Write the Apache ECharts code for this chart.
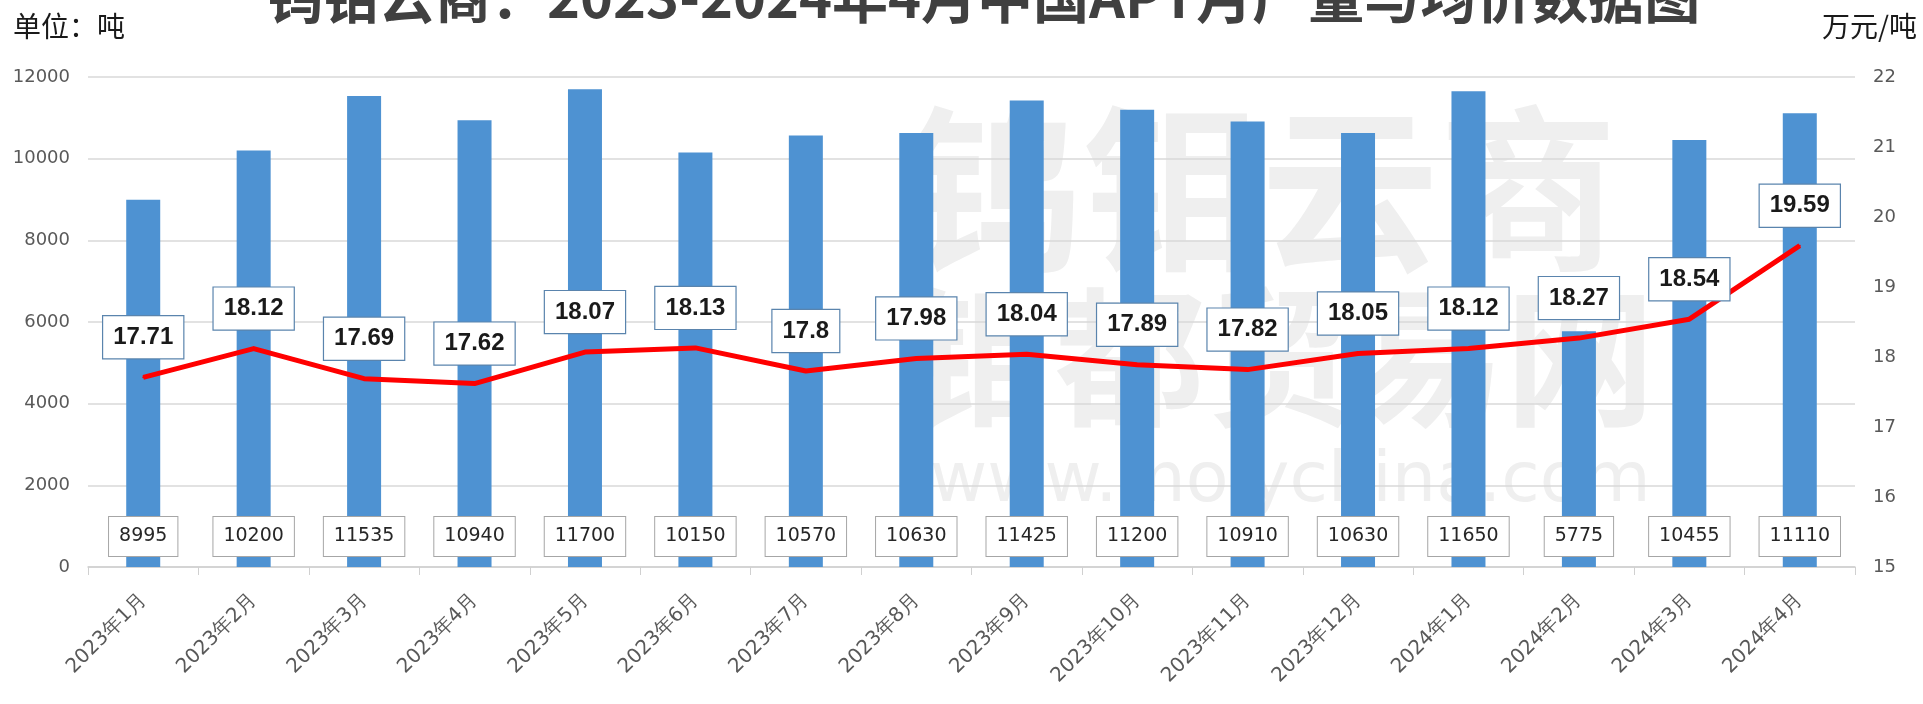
<!DOCTYPE html>
<html>
<head>
<meta charset="utf-8">
<script src="https://cdn.jsdelivr.net/npm/echarts@6/dist/echarts.min.js"></script>
<style>
html,body{margin:0;padding:0;background:#fff;}
#chart{width:1923px;height:704px;}
</style>
</head>
<body>
<div id="chart"></div>
<script>
const titleText = '钨钼云商：2023-2024年4月中国APT月产量与均价数据图';
const leftUnit = '单位：吨';
const rightUnit = '万元/吨';
const categories = ['2023年1月','2023年2月','2023年3月','2023年4月','2023年5月','2023年6月','2023年7月','2023年8月','2023年9月','2023年10月','2023年11月','2023年12月','2024年1月','2024年2月','2024年3月','2024年4月'];
const output = [8995, 10200, 11535, 10940, 11700, 10150, 10570, 10630, 11425, 11200, 10910, 10630, 11650, 5775, 10455, 11110];
const price = [17.71, 18.12, 17.69, 17.62, 18.07, 18.13, 17.8, 17.98, 18.04, 17.89, 17.82, 18.05, 18.12, 18.27, 18.54, 19.59];
const watermark1 = '钨钼云商';
const watermark2 = '钼都贸易网';
const watermark3 = 'www.molychina.com';

const chart = echarts.init(document.getElementById('chart'));
chart.setOption({
  backgroundColor: '#ffffff',
  animation: false,
  title: {
    text: titleText,
    left: 262,
    top: -36,
    textStyle: {fontSize: 56, fontWeight: 'bold', color: '#404040', fontFamily: 'Noto Sans CJK SC'}
  },
  graphic: [
    {type: 'text', left: 13, top: 12, z: 10, style: {text: leftUnit, fontSize: 28, fill: '#1a1a1a', fontFamily: 'Noto Sans CJK SC'}},
    {type: 'text', right: 6, top: 12, z: 10, style: {text: rightUnit, fontSize: 28, fill: '#1a1a1a', fontFamily: 'Noto Sans CJK SC'}},
    {type: 'text', left: 905, top: 100, z: -10, silent: true, style: {text: watermark1, fontSize: 178, fontWeight: 'bold', fill: '#efefef', fontFamily: 'Noto Sans CJK SC'}},
    {type: 'text', left: 905, top: 282, z: -10, silent: true, style: {text: watermark2, fontSize: 150, fontWeight: 'bold', fill: '#efefef', fontFamily: 'Noto Sans CJK SC'}},
    {type: 'text', left: 930, top: 448, z: -10, silent: true, style: {text: watermark3, fontSize: 70, fill: '#efefef', fontFamily: 'DejaVu Sans'}}
  ],
  grid: {left: 88, right: 68, top: 77, bottom: 137, containLabel: false},
  xAxis: {
    type: 'category',
    data: categories,
    boundaryGap: true,
    axisLine: {show: true, lineStyle: {color: '#d0d0d0', width: 1.5}},
    axisTick: {show: true, alignWithLabel: false, length: 8, lineStyle: {color: '#d0d0d0'}},
    axisLabel: {rotate: 45, fontSize: 20, color: '#595959', margin: 30, fontFamily: 'DejaVu Sans', interval: 0}
  },
  yAxis: [
    {
      type: 'value', min: 0, max: 12000, interval: 2000,
      axisLine: {show: false}, axisTick: {show: false},
      splitLine: {show: true, lineStyle: {color: '#d9d9d9', width: 1.5}},
      axisLabel: {fontSize: 18, color: '#595959', margin: 18, fontFamily: 'DejaVu Sans', formatter: function (v) { return String(v); }}
    },
    {
      type: 'value', min: 15, max: 22, interval: 1,
      axisLine: {show: false}, axisTick: {show: false},
      splitLine: {show: false},
      axisLabel: {fontSize: 18, color: '#595959', margin: 18, fontFamily: 'DejaVu Sans'}
    }
  ],
  series: [
    {
      type: 'bar', data: output, yAxisIndex: 0, barWidth: 34, z: 2,
      itemStyle: {color: '#4e92d2'},
      label: {
        show: true, position: 'insideBottom', distance: 11,
        backgroundColor: '#ffffff', borderColor: '#a6a6a6', borderWidth: 1,
        padding: [10, 10], fontSize: 19, color: '#262626', fontFamily: 'DejaVu Sans'
      }
    },
    {
      type: 'line', data: price, yAxisIndex: 1, z: 3,
      symbol: 'circle', symbolSize: 2, showSymbol: true,
      itemStyle: {color: '#ff0000'},
      lineStyle: {color: '#ff0000', width: 5, join: 'round'},
      label: {
        show: true, position: 'top', distance: 18,
        backgroundColor: '#ffffff', borderColor: '#5a84ad', borderWidth: 1.2,
        padding: [9, 10], fontSize: 24, fontWeight: 'bold', color: '#1a1a1a', fontFamily: 'Liberation Sans'
      }
    }
  ]
});
</script>
</body>
</html>
